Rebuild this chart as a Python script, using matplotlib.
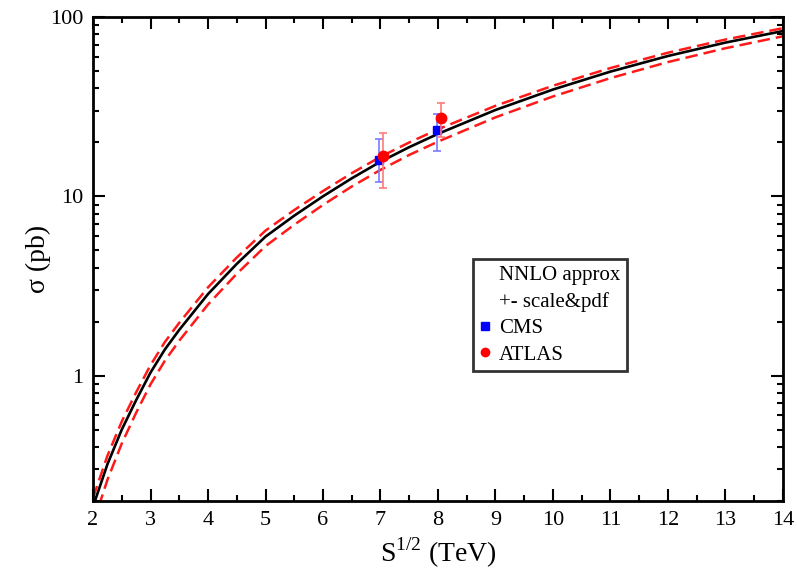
import matplotlib
matplotlib.use("Agg")
import matplotlib.pyplot as plt
from matplotlib.lines import Line2D
from matplotlib.ticker import MultipleLocator, FixedLocator, NullFormatter

plt.rcParams['font.family'] = ['Liberation Serif', 'DejaVu Serif']
plt.rcParams['mathtext.fontset'] = 'custom'
plt.rcParams['mathtext.rm'] = 'Liberation Serif'

# NNLO approx cross section vs collider energy (TeV, pb)
energy = [2, 2.25, 2.5, 2.75, 3, 3.25, 3.5, 4, 4.5, 5, 5.5, 6, 6.5, 7, 7.5, 8,
          9, 10, 11, 12, 13, 14]
sigma = [0.186, 0.32, 0.50, 0.73, 1.04, 1.40, 1.80, 2.85, 4.2, 5.96, 7.8, 10.0,
         12.6, 15.6, 18.8, 22.3, 30.3, 39.4, 49.6, 60.6, 72.0, 83.5]
sigma_up = [0.208, 0.357, 0.555, 0.807, 1.144, 1.540, 1.971, 3.107, 4.557,
            6.437, 8.385, 10.70, 13.46, 16.61, 19.97, 23.64, 31.97, 41.37,
            51.93, 63.21, 74.88, 86.59]
sigma_dn = [0.149, 0.262, 0.418, 0.621, 0.894, 1.211, 1.566, 2.494, 3.696,
            5.275, 6.942, 8.95, 11.34, 14.04, 17.01, 20.18, 27.57, 36.05,
            45.63, 56.06, 66.96, 78.07]

# measurements
cms_x = [6.98, 7.98]
cms_y = [16.0, 23.4]
cms_err_lo = [4.0, 5.4]
cms_err_hi = [5.0, 5.4]
atlas_x = [7.05, 8.05]
atlas_y = [16.8, 27.2]
atlas_err = [5.7, 5.8]

fig = plt.figure(figsize=(7.97, 5.70), dpi=100)
ax = fig.add_axes([0.1167, 0.1211, 0.8657, 0.8491])

ax.plot(energy, sigma, color='black', lw=1.9)
ax.plot(energy, sigma_up, color='#ff1a1a', lw=1.8, dashes=(5, 2.4))
ax.plot(energy, sigma_dn, color='#ff1a1a', lw=1.8, dashes=(5, 2.4))

ax.errorbar(cms_x, cms_y, yerr=[cms_err_lo, cms_err_hi], fmt='s', color='#0000ff',
            ms=6, ecolor='#7a7aff', elinewidth=1.2, capsize=2.8, capthick=1.2,
            zorder=4)
ax.errorbar(atlas_x, atlas_y, yerr=atlas_err, fmt='o', color='#ff0000',
            ms=7.5, ecolor='#ff7a7a', elinewidth=1.2, capsize=2.8, capthick=1.2,
            zorder=5)

ax.set_yscale('log')
ax.set_xlim(2, 14)
ax.set_ylim(0.2, 100)

ax.xaxis.set_major_locator(MultipleLocator(1))
ax.xaxis.set_minor_locator(MultipleLocator(0.5))
ax.yaxis.set_major_locator(FixedLocator([1, 10, 100]))
ax.set_yticklabels(['1', '10', '100'])
minor_y = [m * d for d in (0.1, 1, 10) for m in range(2, 10)]
ax.yaxis.set_minor_locator(FixedLocator(minor_y))
ax.yaxis.set_minor_formatter(NullFormatter())

ax.tick_params(which='both', direction='in', top=True, right=True,
               labelsize=16, width=1.5, pad=7)
ax.tick_params(which='major', length=8.8)
ax.tick_params(which='minor', length=4.2)
for sp in ax.spines.values():
    sp.set_linewidth(2)

ax.set_xlabel(r'S$^{1/2}$ (TeV)', fontsize=20, labelpad=4)
ax.set_ylabel('σ (pb)', fontsize=20, labelpad=-1)

handles = [Line2D([], [], ls='none'),
           Line2D([], [], ls='none'),
           Line2D([], [], ls='none', marker='s', color='#0000ff', ms=5.5),
           Line2D([], [], ls='none', marker='o', color='#ff0000', ms=6)]
labels = ['NNLO approx', '+- scale&pdf', 'CMS', 'ATLAS']
leg = ax.legend(handles, labels, loc='upper left', bbox_to_anchor=(0.551, 0.5),
                borderaxespad=0, fontsize=15, frameon=True, fancybox=False,
                handlelength=0.5, handletextpad=0.45, labelspacing=0.33,
                borderpad=0.3, edgecolor='black')
leg.get_frame().set_linewidth(2)

fig.savefig('out.png', dpi=100)
